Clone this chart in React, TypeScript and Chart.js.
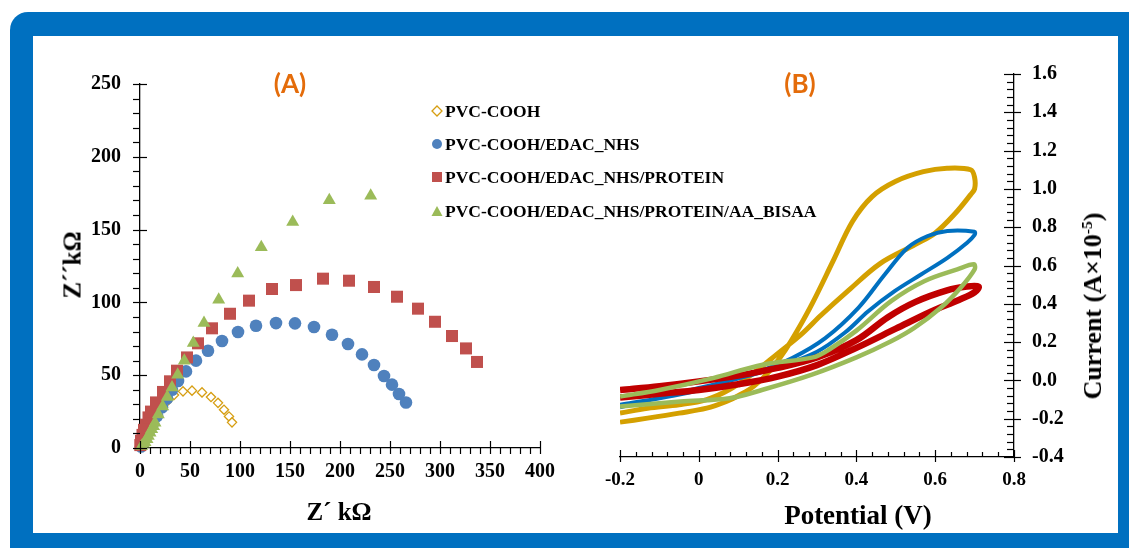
import React, { useEffect, useRef } from 'react';
import { Chart, registerables } from 'chart.js';

Chart.register(...registerables);

// ---------------- Panel (A): Nyquist plot data (Z' kΩ, Z'' kΩ) ----------------
const seriesNames = [
  'PVC-COOH',
  'PVC-COOH/EDAC_NHS',
  'PVC-COOH/EDAC_NHS/PROTEIN',
  'PVC-COOH/EDAC_NHS/PROTEIN/AA_BISAA',
];

const coohX = [1, 3, 6, 10, 15, 20, 27, 34, 43, 52, 62, 71, 78, 84, 89, 92];
const coohY = [2, 5, 9, 14, 20, 26, 32, 36.4, 38.9, 39.4, 38.2, 35, 31, 26.3, 21.7, 17.6];

const edacX = [1, 3, 6, 9, 13, 17, 22, 27, 32, 38, 46, 56, 68, 82, 98, 116, 136, 155, 174, 192, 208, 222, 234, 244, 252, 259, 266];
const edacY = [1, 4, 8, 12, 17, 22, 28, 34, 40, 46, 52.6, 60, 66.8, 73.5, 79.7, 84, 85.8, 85.6, 83.1, 77.8, 71.4, 64.3, 57, 49.4, 43.5, 37.1, 31.3];

const proteinX = [0.3, 1, 2.5, 4, 6, 8.5, 11, 16, 23, 30, 37, 47, 58, 72, 90, 109, 132, 156, 183, 209, 234, 257, 278, 295, 312, 326, 337];
const proteinY = [2, 5, 9, 12.5, 16, 21, 25, 31.3, 38.5, 45.8, 53.1, 62.2, 71.9, 82.2, 92.2, 101.2, 109.2, 111.9, 116.3, 114.9, 110.6, 103.9, 95.7, 86.7, 76.9, 68.4, 59.1];

const bisaaX = [1.7, 3.5, 5, 7, 8.3, 10, 11.7, 13.5, 15, 18.3, 22.7, 27.3, 32, 37.7, 44.3, 53.3, 64, 78.7, 97.7, 121.3, 152.7, 189.3, 230.7];
const bisaaY = [1.4, 3, 4, 6, 8.2, 10.5, 12.8, 15, 17.3, 23, 28.5, 35, 41.6, 50.3, 60, 72.1, 85.9, 101.9, 119.9, 137.8, 155.2, 170.1, 173.3];

const aXRange = [0, 400];
const aYRange = [0, 250];
const aMajorStep = 50;
const aMinorStep = 10;

// ---------------- Panel (B): cyclic voltammograms (V, A×10^-5) ----------------
const goldV = [-0.2, -0.13, -0.05, 0.02, 0.07, 0.1, 0.14, 0.18, 0.22, 0.25, 0.29, 0.34, 0.39, 0.44, 0.5, 0.57, 0.63, 0.69, 0.7,
  0.7, 0.69, 0.65, 0.6, 0.55, 0.46, 0.38, 0.31, 0.26, 0.2, 0.14, 0.08, 0.02, -0.05, -0.13, -0.2];
const goldI = [-0.218, -0.197, -0.171, -0.145, -0.11, -0.08, -0.03, 0.05, 0.16, 0.26, 0.41, 0.62, 0.83, 0.96, 1.04, 1.09, 1.108, 1.1, 1.06,
  1.0, 0.97, 0.87, 0.77, 0.71, 0.61, 0.47, 0.34, 0.24, 0.14, 0.04, -0.045, -0.1, -0.127, -0.145, -0.171];

const blueV = [-0.2, -0.1, -0.014, 0.07, 0.153, 0.237, 0.321, 0.405, 0.472, 0.53, 0.581, 0.631, 0.7,
  0.7, 0.681, 0.631, 0.564, 0.497, 0.43, 0.371, 0.3, 0.2, 0.1, 0.0, -0.1, -0.2];
const blueI = [-0.127, -0.093, -0.058, -0.005, 0.047, 0.117, 0.221, 0.379, 0.553, 0.693, 0.754, 0.78, 0.776,
  0.76, 0.719, 0.64, 0.553, 0.466, 0.361, 0.25, 0.15, 0.07, 0.01, -0.04, -0.09, -0.14];

const redV = [-0.2, -0.1, 0, 0.1, 0.2, 0.3, 0.4, 0.48, 0.55, 0.63, 0.68, 0.71,
  0.7, 0.66, 0.59, 0.5, 0.4, 0.3, 0.2, 0.1, 0, -0.1, -0.2];
const redI = [-0.05, -0.03, -0.005, 0.025, 0.065, 0.12, 0.21, 0.33, 0.41, 0.47, 0.49, 0.49,
  0.46, 0.42, 0.36, 0.27, 0.17, 0.08, 0.02, -0.02, -0.05, -0.07, -0.09];

const greenV = [-0.2, -0.1, 0.036, 0.162, 0.29, 0.33, 0.4, 0.488, 0.572, 0.656, 0.698,
  0.7, 0.664, 0.614, 0.547, 0.488, 0.4, 0.287, 0.162, 0.078, -0.047, -0.2];
const greenI = [-0.084, -0.05, 0.012, 0.082, 0.12, 0.16, 0.26, 0.414, 0.518, 0.58, 0.606,
  0.58, 0.483, 0.379, 0.274, 0.204, 0.12, 0.03, -0.049, -0.093, -0.11, -0.136];

const bXRange = [-0.2, 0.8];
const bYRange = [-0.4, 1.6];
const bMajorStep = 0.2;
const bMinorStep = 0.04;

// ---------------- helpers ----------------
const SERIF = '"Liberation Serif", "Times New Roman", serif';

type TickCfg = { major: number; minorIn: number; minorOut: number; majorIn: number; majorOut: number };

function makeTickPlugin(cfgs: Record<string, TickCfg>) {
  return {
    id: 'axisTicks',
    afterDraw(chart: any) {
      const ctx = chart.ctx;
      ctx.save();
      ctx.strokeStyle = '#000';
      ctx.lineWidth = 1.2;
      Object.keys(cfgs).forEach((id) => {
        const cfg = cfgs[id];
        const scale = chart.scales[id];
        if (!scale) return;
        const horiz = scale.isHorizontal();
        const pos = scale.options.position;
        scale.ticks.forEach((t: any) => {
          const v = t.value;
          const r = v / cfg.major;
          const major = Math.abs(r - Math.round(r)) < 1e-6;
          const inLen = major ? cfg.majorIn : cfg.minorIn;
          const outLen = major ? cfg.majorOut : cfg.minorOut;
          const p = Math.round(scale.getPixelForValue(v)) + 0.5;
          ctx.beginPath();
          if (horiz) {
            const y0 = pos === 'bottom' ? scale.top : scale.bottom;
            const dir = pos === 'bottom' ? 1 : -1;
            ctx.moveTo(p, y0 - dir * inLen);
            ctx.lineTo(p, y0 + dir * outLen);
          } else {
            const x0 = pos === 'left' ? scale.right : scale.left;
            const dir = pos === 'left' ? -1 : 1;
            ctx.moveTo(x0 - dir * inLen, p);
            ctx.lineTo(x0 + dir * outLen, p);
          }
          ctx.stroke();
        });
      });
      ctx.restore();
    },
  };
}

const pts = (xs: number[], ys: number[]) => xs.map((x, i) => ({ x, y: ys[i] }));
const isMajor = (v: number, step: number) => Math.abs(v / step - Math.round(v / step)) < 1e-6;

const COLORS = {
  cooh: 'rgb(214,158,18)',
  edac: '#4F81BD',
  protein: '#C0504D',
  bisaa: '#9BBB59',
  cvGold: 'rgb(212,160,0)',
  cvBlue: 'rgb(0,112,192)',
  cvRed: 'rgb(192,0,0)',
  cvGreen: 'rgb(155,187,89)',
};

export default function App() {
  const aRef = useRef<HTMLCanvasElement | null>(null);
  const bRef = useRef<HTMLCanvasElement | null>(null);

  useEffect(() => {
    const tickFont = { family: SERIF, weight: 'bold' as const, size: 20 };

    const chartA = new Chart(aRef.current as HTMLCanvasElement, {
      type: 'scatter',
      data: {
        datasets: [
          {
            label: seriesNames[0], data: pts(coohX, coohY), order: 3,
            pointStyle: 'rectRot', radius: 4.6, borderWidth: 1.3,
            borderColor: COLORS.cooh, backgroundColor: '#ffffff', clip: false,
          },
          {
            label: seriesNames[1], data: pts(edacX, edacY), order: 2,
            pointStyle: 'circle', radius: 6.3, borderWidth: 0,
            borderColor: COLORS.edac, backgroundColor: COLORS.edac, clip: false,
          },
          {
            label: seriesNames[2], data: pts(proteinX, proteinY), order: 1,
            pointStyle: 'rect', radius: 8.5, borderWidth: 0,
            borderColor: COLORS.protein, backgroundColor: COLORS.protein, clip: false,
          },
          {
            label: seriesNames[3], data: pts(bisaaX, bisaaY), order: 0,
            pointStyle: 'triangle', radius: 7.5, borderWidth: 0,
            borderColor: COLORS.bisaa, backgroundColor: COLORS.bisaa, clip: false,
          },
        ] as any,
      },
      options: {
        animation: false,
        responsive: false,
        maintainAspectRatio: false,
        layout: { padding: { top: 48, right: 53, left: 0, bottom: 0 } },
        plugins: { legend: { display: false }, tooltip: { enabled: false } },
        scales: {
          x: {
            type: 'linear', position: 'bottom', min: aXRange[0], max: aXRange[1],
            afterFit: (s: any) => { s.height = 85; },
            grid: { display: true, drawOnChartArea: false, drawTicks: false },
            border: { display: true, color: '#000', width: 1.3 },
            ticks: {
              stepSize: aMinorStep, autoSkip: false, maxRotation: 0, padding: 12,
              color: '#000', font: tickFont,
              callback: (v: any) => (isMajor(Number(v), aMajorStep) ? String(Math.round(Number(v))) : ''),
            },
          },
          y: {
            type: 'linear', position: 'left', min: aYRange[0], max: aYRange[1],
            afterFit: (s: any) => { s.width = 107; },
            grid: { display: true, drawOnChartArea: false, drawTicks: false },
            border: { display: true, color: '#000', width: 1.3 },
            ticks: {
              stepSize: aMinorStep, autoSkip: false, padding: 19,
              color: '#000', font: tickFont,
              callback: (v: any) => (isMajor(Number(v), aMajorStep) ? String(Math.round(Number(v))) : ''),
            },
          },
        },
      } as any,
      plugins: [makeTickPlugin({
        x: { major: aMajorStep, minorIn: 0, minorOut: 6, majorIn: 7, majorOut: 6 },
        y: { major: aMajorStep, minorIn: 0, minorOut: 7, majorIn: 7, majorOut: 7 },
      })],
    });

    const cv = (label: string, vs: number[], is: number[], color: string, w: number, order: number) => ({
      label, data: pts(vs, is), showLine: true, borderColor: color, backgroundColor: color,
      borderWidth: w, pointRadius: 0, tension: 0.35, fill: false, order,
    });

    const chartB = new Chart(bRef.current as HTMLCanvasElement, {
      type: 'scatter',
      data: {
        datasets: [
          cv(seriesNames[0], goldV, goldI, COLORS.cvGold, 5, 3),
          cv(seriesNames[1], blueV, blueI, COLORS.cvBlue, 4, 2),
          cv(seriesNames[2], redV, redI, COLORS.cvRed, 6.5, 1),
          cv(seriesNames[3], greenV, greenI, COLORS.cvGreen, 4.5, 0),
        ] as any,
      },
      options: {
        animation: false,
        responsive: false,
        maintainAspectRatio: false,
        layout: { padding: { top: 38, right: 0, left: 23, bottom: 0 } },
        plugins: { legend: { display: false }, tooltip: { enabled: false } },
        scales: {
          x: {
            type: 'linear', position: 'bottom', min: bXRange[0], max: bXRange[1],
            afterFit: (s: any) => { s.height = 76; },
            grid: { display: true, drawOnChartArea: false, drawTicks: false },
            border: { display: true, color: '#000', width: 1.3 },
            ticks: {
              stepSize: bMinorStep, autoSkip: false, maxRotation: 0, padding: 12,
              color: '#000', font: { family: SERIF, weight: 'bold', size: 19 },
              callback: (v: any) => {
                const n = Number(v);
                if (!isMajor(n, bMajorStep)) return '';
                return Math.abs(n) < 1e-9 ? '0' : n.toFixed(1);
              },
            },
          },
          y: {
            type: 'linear', position: 'right', min: bYRange[0], max: bYRange[1],
            afterFit: (s: any) => { s.width = 104; },
            grid: { display: true, drawOnChartArea: false, drawTicks: false },
            border: { display: true, color: '#000', width: 1.3 },
            ticks: {
              stepSize: bMinorStep, autoSkip: false, padding: 18,
              color: '#000', font: { family: SERIF, weight: 'bold', size: 20 },
              callback: (v: any) => {
                const n = Number(v);
                if (!isMajor(n, bMajorStep)) return '';
                return Math.abs(n) < 1e-9 ? '0.0' : n.toFixed(1);
              },
            },
          },
        },
      } as any,
      plugins: [makeTickPlugin({
        x: { major: bMajorStep, minorIn: 5, minorOut: 0, majorIn: 7, majorOut: 5 },
        y: { major: bMajorStep, minorIn: 7, minorOut: 0, majorIn: 10, majorOut: 7 },
      })],
    });

    return () => {
      chartA.destroy();
      chartB.destroy();
    };
  }, []);

  const abs = (x: number, y: number, extra: React.CSSProperties = {}): React.CSSProperties => ({
    position: 'absolute', left: x, top: y, transform: 'translate(-50%, -50%)', whiteSpace: 'nowrap', lineHeight: 1, ...extra,
  });
  const serifBold: React.CSSProperties = { fontFamily: SERIF, fontWeight: 700, color: '#000' };
  const panelLabel: React.CSSProperties = { fontFamily: 'Lato, "Open Sans", sans-serif', fontWeight: 700, fontSize: 26, color: '#E46C0A' };

  const legendRows = [110.7, 143.5, 177.3, 210.7];
  const markers = [
    <svg width="12" height="12" viewBox="0 0 12 12"><polygon points="6,1 11,6 6,11 1,6" fill="#fff" stroke={COLORS.cooh} strokeWidth="1.3" /></svg>,
    <svg width="12" height="12" viewBox="0 0 12 12"><circle cx="6" cy="6" r="5" fill={COLORS.edac} /></svg>,
    <svg width="12" height="12" viewBox="0 0 12 12"><rect x="1" y="1" width="10" height="10" fill={COLORS.protein} /></svg>,
    <svg width="12" height="12" viewBox="0 0 12 12"><polygon points="6,1 11.5,11 0.5,11" fill={COLORS.bisaa} /></svg>,
  ];

  return (
    <div style={{ position: 'absolute', left: 0, top: 0, width: 1129, height: 548, overflow: 'hidden', background: '#fff' }}>
      <div style={{ position: 'absolute', left: 10, top: 12, width: 1150, height: 570, background: '#0070C0', borderRadius: 18 }} />
      <div style={{ position: 'absolute', left: 33, top: 36, width: 1085, height: 497, background: '#fff' }} />
      <canvas ref={aRef} width={560} height={497} style={{ position: 'absolute', left: 33, top: 36, width: 560, height: 497 }} />
      <canvas ref={bRef} width={525} height={497} style={{ position: 'absolute', left: 593, top: 36, width: 525, height: 497 }} />

      <div style={abs(290, 83, panelLabel)}>(A)</div>
      <div style={abs(800, 83, panelLabel)}>(B)</div>

      {seriesNames.map((name, i) => (
        <React.Fragment key={name}>
          <div style={{ position: 'absolute', left: 431, top: legendRows[i] - 6, width: 12, height: 12, lineHeight: 0 }}>{markers[i]}</div>
          <div style={{ ...serifBold, position: 'absolute', left: 445, top: legendRows[i] - 10, height: 20, lineHeight: '20px', fontSize: 17.5, whiteSpace: 'nowrap' }}>{name}</div>
        </React.Fragment>
      ))}

      <div style={abs(339, 511, { ...serifBold, fontSize: 25 })}>Z´ kΩ</div>
      <div style={abs(72, 265, { ...serifBold, fontSize: 25, transform: 'translate(-50%, -50%) rotate(-90deg)' })}>Z´´kΩ</div>
      <div style={abs(858, 515, { ...serifBold, fontSize: 27 })}>Potential (V)</div>
      <div style={abs(1093, 306, { ...serifBold, fontSize: 26, transform: 'translate(-50%, -50%) rotate(-90deg)' })}>
        Current (A×10<span style={{ fontSize: '0.6em', position: 'relative', top: '-0.6em' }}>-5</span>)
      </div>
    </div>
  );
}
